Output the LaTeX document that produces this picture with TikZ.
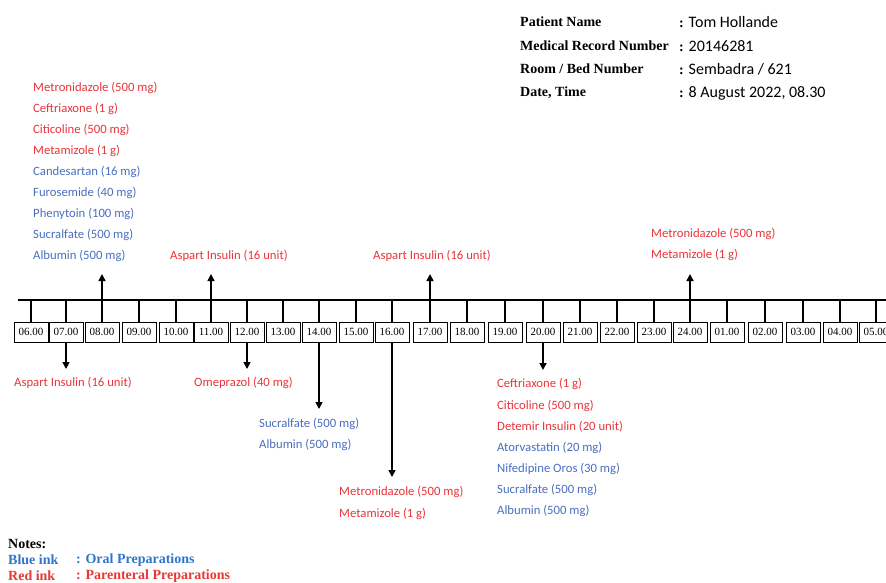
\documentclass[tikz,border=0pt]{standalone}
\usepackage{fontspec}
\setmainfont{Liberation Serif}
\newfontfamily\hand{Carlito}
\usetikzlibrary{arrows.meta}
\definecolor{rx}{RGB}{232,52,58}
\definecolor{bx}{RGB}{74,110,190}
\definecolor{nb}{RGB}{47,117,201}
\definecolor{nr}{RGB}{229,57,53}
\begin{document}
\begin{tikzpicture}[x=1pt,y=-1pt,
 hr/.style={font=\hand\fontsize{12.7}{14}\selectfont, anchor=west, inner sep=0, text=rx},
 hb/.style={hr, text=bx},
 tbox/.style={draw, line width=0.8pt, minimum width=34pt, minimum height=20pt, inner sep=0, font=\fontsize{11}{12}\selectfont},
 tick/.style={line width=1.2pt},
 arr/.style={line width=1.6pt, -{Triangle[width=7pt,length=7pt]}},
 hdr/.style={font=\bfseries\fontsize{14}{16}\selectfont, anchor=west, inner sep=0},
 hval/.style={font=\hand\fontsize{16}{18}\selectfont, anchor=west, inner sep=0},
 note/.style={font=\bfseries\fontsize{14}{16}\selectfont, anchor=west, inner sep=0}]
\useasboundingbox (0,0) rectangle (886,583);
% header
\node[hdr] (h1) at (520,22) {Patient Name};
\node[hdr] (h2) at (520,46) {Medical Record Number};
\node[hdr] (h3) at (520,69) {Room / Bed Number};
\node[hdr] (h4) at (520,93) {Date, Time};
\node[hval] (v1) at (679,22) {{\rmfamily\bfseries\fontsize{14}{16}\selectfont :} Tom Hollande};
\node[hval] (v2) at (679,46) {{\rmfamily\bfseries\fontsize{14}{16}\selectfont :} 20146281};
\node[hval] (v3) at (679,69) {{\rmfamily\bfseries\fontsize{14}{16}\selectfont :} Sembadra / 621};
\node[hval] (v4) at (679,93) {{\rmfamily\bfseries\fontsize{14}{16}\selectfont :} 8 August 2022, 08.30};
% timeline
\coordinate (L) at (0,300);
\coordinate (Ls) at (18,300);
\coordinate (Le) at (892,300);
\draw[line width=2pt] (Ls) -- (Le);
\foreach \n/\x in {06/31,07/66,08/102,09/139,10/176,11/211,12/247,13/283,14/319,15/356,16/392,17/430,18/467,19/505,20/543,21/580,22/617,23/654,24/690,01/727,02/765,03/803,04/840,05/876}{
  \node[tbox] (t\n) at (\x,332) {\n.00};
  \draw[tick] (t\n.north) -- (t\n.north |- L);
}
% up arrows
\coordinate (u08) at (102,274);
\coordinate (u11) at (211,274);
\coordinate (u17) at (430,274);
\coordinate (u24) at (690,274);
\foreach \n in {08,11,17,24}{ \draw[arr] (t\n.north |- L) -- (u\n); }
% down arrows
\coordinate (d07) at (66,369);
\coordinate (d12) at (247,369);
\coordinate (d14) at (319,409);
\coordinate (d16) at (392,477);
\coordinate (d20) at (543,370);
\foreach \n in {07,12,14,16,20}{ \draw[arr] (t\n.south) -- (d\n); }
% top-left list
\node[hr] (a1) at (33,88) {Metronidazole (500 mg)};
\node[hr] (a2) at (33,109) {Ceftriaxone (1 g)};
\node[hr] (a3) at (33,130) {Citicoline (500 mg)};
\node[hr] (a4) at (33,151) {Metamizole (1 g)};
\node[hb] (a5) at (33,172) {Candesartan (16 mg)};
\node[hb] (a6) at (33,193) {Furosemide (40 mg)};
\node[hb] (a7) at (33,214) {Phenytoin (100 mg)};
\node[hb] (a8) at (33,235) {Sucralfate (500 mg)};
\node[hb] (a9) at (33,256) {Albumin (500 mg)};
\node[hr] (b1) at (170,256) {Aspart Insulin (16 unit)};
\node[hr] (c1) at (373,256) {Aspart Insulin (16 unit)};
\node[hr] (e1) at (651,234) {Metronidazole (500 mg)};
\node[hr] (e2) at (651,255) {Metamizole (1 g)};
% below
\node[hr] (f1) at (14,383) {Aspart Insulin (16 unit)};
\node[hr] (g1) at (194,383) {Omeprazol (40 mg)};
\node[hb] (k1) at (259,424) {Sucralfate (500 mg)};
\node[hb] (k2) at (259,445) {Albumin (500 mg)};
\node[hr] (m1) at (339,492) {Metronidazole (500 mg)};
\node[hr] (m2) at (339,514) {Metamizole (1 g)};
\node[hr] (p1) at (497,384) {Ceftriaxone (1 g)};
\node[hr] (p2) at (497,406) {Citicoline (500 mg)};
\node[hr] (p3) at (497,427) {Detemir Insulin (20 unit)};
\node[hb] (p4) at (497,448) {Atorvastatin (20 mg)};
\node[hb] (p5) at (497,469) {Nifedipine Oros (30 mg)};
\node[hb] (p6) at (497,490) {Sucralfate (500 mg)};
\node[hb] (p7) at (497,511) {Albumin (500 mg)};
% notes
\node[note] (n0) at (8,544) {Notes:};
\node[note, text=nb] (n1) at (8,560) {Blue ink};
\node[note, text=nb] (n2) at (76,560) {: Oral Preparations};
\node[note, text=nr] (n3) at (8,576) {Red ink};
\node[note, text=nr] (n4) at (76,576) {: Parenteral Preparations};
\end{tikzpicture}
\end{document}
